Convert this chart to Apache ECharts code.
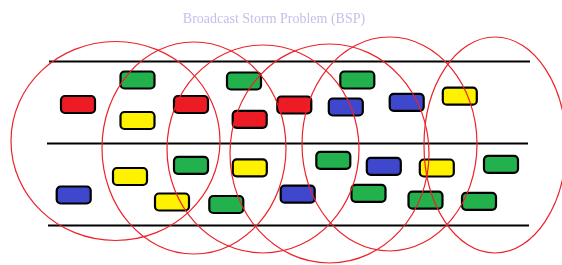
<!DOCTYPE html>
<html>
<head>
<meta charset="utf-8">
<script src="https://cdn.jsdelivr.net/npm/echarts@6/dist/echarts.min.js"></script>
<style>
  html, body { margin: 0; padding: 0; background: #fff; }
  #main { width: 562px; height: 265px; }
</style>
</head>
<body>
<div id="main"></div>
<script>
// road edges: [y, xStart, xEnd]
var roadLines = [
    [61.5, 49, 530],
    [143.5, 47, 528],
    [225.5, 48, 529]
];

// broadcast ranges: [cx, cy, rx, ry]
var ranges = [
    [115.5, 141, 104.5, 99.5],
    [194, 148, 92, 106],
    [263, 149, 96, 104],
    [329.5, 153.5, 99.5, 109.5],
    [389.5, 144, 87.5, 107],
    [495, 145, 71, 108]
];

// vehicles per colour: [cx, cy]
var redCars = [[78, 104.5], [191, 104.5], [249.7, 119.3], [294.3, 105]];
var greenCars = [[137.5, 80], [191, 165.3], [244, 81], [357.3, 80], [226.3, 204.5],
    [333.3, 160.3], [368.5, 193.3], [501, 164.3], [425.5, 200.2], [479, 201.3]];
var yellowCars = [[137.5, 120.5], [130, 176.5], [172, 202], [249.8, 167.8], [459.8, 96.2], [436.8, 168]];
var blueCars = [[73.7, 195], [345.8, 107], [406.7, 102.3], [383.8, 166.3], [297.7, 194.2]];

var myChart = echarts.init(document.getElementById('main'));

function carSeries(name, data, color) {
    return {
        name: name,
        type: 'custom',
        z: 2,
        data: data,
        renderItem: function (params, api) {
            var c = api.coord([api.value(0), api.value(1)]);
            var s = api.size([34, 17]);
            return {
                type: 'rect',
                shape: { x: c[0] - s[0] / 2, y: c[1] - s[1] / 2, width: s[0], height: s[1], r: 4 },
                style: { fill: color, stroke: '#000', lineWidth: 2.2 }
            };
        }
    };
}

var option = {
    animation: false,
    title: {
        text: 'Broadcast Storm Problem (BSP)',
        left: 269,
        top: 7,
        textAlign: 'center',
        textStyle: {
            fontFamily: 'Liberation Serif',
            fontWeight: 'normal',
            fontSize: 14,
            color: '#c5bfe9'
        }
    },
    grid: { left: 0, right: 0, top: 0, bottom: 0 },
    xAxis: { type: 'value', min: 0, max: 562, show: false },
    yAxis: { type: 'value', min: 0, max: 265, inverse: true, show: false },
    series: [
        {
            name: 'road',
            type: 'custom',
            z: 1,
            data: roadLines,
            renderItem: function (params, api) {
                var a = api.coord([api.value(1), api.value(0)]);
                var b = api.coord([api.value(2), api.value(0)]);
                return {
                    type: 'line',
                    shape: { x1: a[0], y1: a[1], x2: b[0], y2: b[1] },
                    style: { stroke: '#000', lineWidth: 2 }
                };
            }
        },
        carSeries('red', redCars, '#ed1c24'),
        carSeries('green', greenCars, '#22b14c'),
        carSeries('yellow', yellowCars, '#fff200'),
        carSeries('blue', blueCars, '#3f48cc'),
        {
            name: 'range',
            type: 'custom',
            z: 3,
            data: ranges,
            renderItem: function (params, api) {
                var c = api.coord([api.value(0), api.value(1)]);
                var s = api.size([api.value(2), api.value(3)]);
                return {
                    type: 'ellipse',
                    shape: { cx: c[0], cy: c[1], rx: s[0], ry: s[1] },
                    style: { fill: null, stroke: '#ec2229', lineWidth: 1.2 }
                };
            }
        }
    ]
};

myChart.setOption(option);
</script>
</body>
</html>
